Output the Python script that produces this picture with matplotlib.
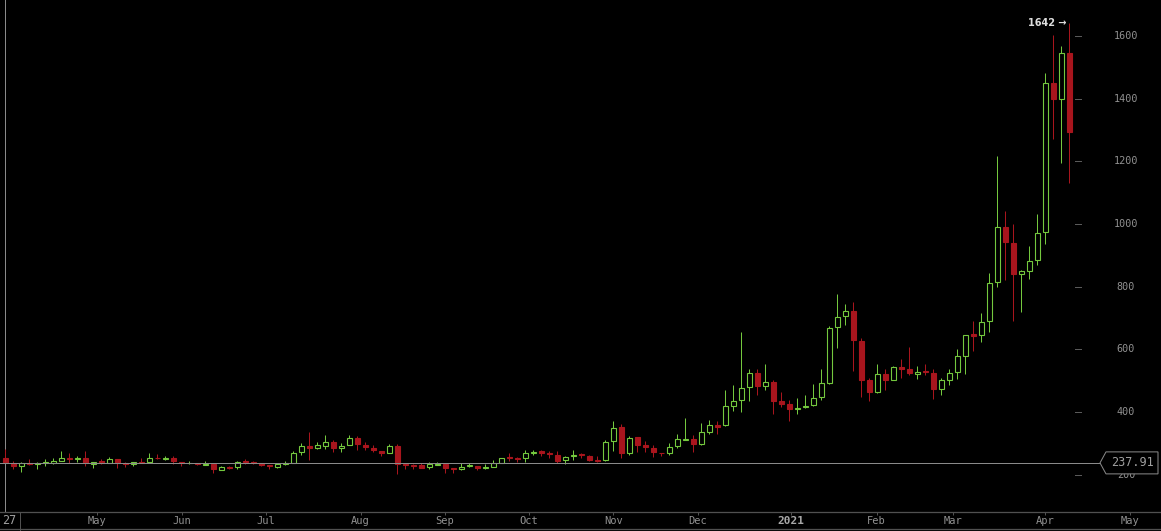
import numpy as np
import matplotlib.pyplot as plt
from matplotlib.patches import Rectangle, Polygon
from matplotlib.lines import Line2D
import matplotlib.transforms as mtrans

# candle data (one candle per bar)
opens = [254, 238, 227, 238, 234, 238, 239, 243, 255, 250,
         255, 235, 243, 239, 249, 238, 235, 242, 240, 255,
         251, 255, 241, 236, 238, 232, 233, 216, 223, 224,
         243, 240, 238, 230, 225, 235, 238, 272, 293, 286,
         293, 306, 285, 294, 318, 296, 287, 276, 270, 293,
         233, 231, 230, 224, 232, 233, 220, 217, 228, 229,
         222, 224, 239, 257, 252, 253, 270, 275, 270, 264,
         246, 259, 266, 261, 248, 248, 307, 351, 268, 319,
         294, 287, 271, 268, 291, 312, 315, 299, 338, 360,
         358, 421, 438, 479, 525, 483, 496, 434, 426, 410,
         416, 422, 447, 493, 671, 706, 721, 628, 501, 463,
         523, 502, 545, 539, 523, 530, 526, 475, 502, 527,
         580, 648, 645, 690, 815, 992, 941, 841, 851, 884,
         976, 1449, 1398, 1545]
highs = [283, 245, 241, 251, 241, 249, 253, 277, 268, 259,
         277, 241, 249, 258, 249, 242, 242, 255, 271, 265,
         259, 261, 241, 244, 239, 244, 233, 229, 229, 245,
         250, 243, 238, 230, 233, 244, 277, 302, 338, 306,
         327, 312, 302, 327, 325, 305, 295, 276, 298, 297,
         236, 235, 236, 242, 240, 236, 220, 236, 237, 229,
         233, 248, 254, 268, 258, 279, 280, 280, 276, 275,
         261, 280, 270, 264, 261, 311, 373, 363, 325, 322,
         308, 294, 271, 300, 331, 382, 328, 365, 376, 370,
         469, 485, 654, 539, 536, 555, 502, 465, 440, 446,
         456, 491, 539, 674, 776, 744, 751, 635, 510, 555,
         539, 548, 568, 609, 548, 552, 539, 510, 536, 600,
         647, 692, 715, 845, 1217, 1041, 1000, 853, 929, 1032,
         1482, 1603, 1568, 1642]
lows = [236, 219, 208, 230, 218, 227, 235, 243, 238, 240,
        227, 221, 234, 237, 221, 225, 228, 236, 240, 250,
        246, 233, 227, 234, 232, 232, 205, 214, 220, 218,
        235, 235, 227, 219, 222, 230, 238, 262, 246, 282,
        283, 272, 272, 294, 280, 278, 272, 259, 268, 204,
        217, 219, 221, 220, 230, 207, 205, 214, 224, 214,
        217, 224, 238, 245, 242, 242, 264, 259, 255, 238,
        233, 246, 253, 245, 242, 243, 275, 252, 262, 274,
        274, 256, 259, 264, 284, 310, 272, 294, 331, 331,
        355, 402, 400, 435, 454, 469, 393, 415, 371, 393,
        413, 419, 438, 491, 604, 677, 530, 447, 435, 460,
        472, 502, 510, 517, 504, 517, 443, 453, 488, 504,
        523, 596, 625, 655, 799, 822, 691, 719, 824, 869,
        936, 1270, 1196, 1130]
closes = [238, 227, 236, 234, 238, 241, 244, 254, 249, 255,
          238, 241, 238, 249, 238, 235, 242, 239, 255, 252,
          255, 243, 239, 239, 235, 234, 218, 225, 221, 242,
          240, 237, 230, 228, 233, 239, 271, 293, 285, 296,
          305, 285, 293, 318, 297, 288, 278, 268, 293, 235,
          230, 228, 223, 233, 234, 221, 218, 226, 231, 223,
          225, 239, 254, 254, 250, 271, 273, 269, 267, 245,
          257, 263, 263, 248, 245, 305, 350, 269, 318, 294,
          288, 272, 268, 289, 314, 315, 297, 337, 359, 354,
          420, 436, 477, 525, 483, 496, 435, 427, 409, 414,
          421, 445, 493, 669, 704, 721, 629, 503, 463, 523,
          502, 545, 539, 524, 529, 527, 475, 501, 526, 580,
          647, 644, 689, 813, 992, 943, 841, 849, 881, 973,
          1449, 1398, 1545, 1295]

ref_price = 237.91
y_ticks = [200, 400, 600, 800, 1000, 1200, 1400, 1600]
month_labels = ["May", "Jun", "Jul", "Aug", "Sep", "Oct", "Nov", "Dec",
                "2021", "Feb", "Mar", "Apr", "May"]
month_pos = [11.4, 22.1, 32.6, 44.4, 54.9, 65.4, 76.0, 86.6,
             98.25, 108.9, 118.4, 130.0, 140.6]

UP = "#74c83e"
DOWN = "#a8151d"
BG = "#000000"
TXT = "#919191"
W, H = 1161, 531
px = 72.0 / 100  # one pixel in points

fig = plt.figure(figsize=(W / 100, H / 100), dpi=100, facecolor=BG)
ax = fig.add_axes([0, (H - 512) / H, 1, 512 / H], facecolor=BG)

n = len(opens)
x = np.arange(n)
bw = 0.55
for i in range(n):
    o, h, l, c = opens[i], highs[i], lows[i], closes[i]
    col = UP if c >= o else DOWN
    ax.vlines(x[i], l, h, color=col, lw=px, zorder=2)
    lo, hi = min(o, c), max(o, c)
    if hi - lo < 3:
        hi = lo + 3
    face = BG if c >= o else DOWN
    ax.add_patch(Rectangle((x[i] - bw / 2, lo), bw, hi - lo, facecolor=face,
                           edgecolor=col, lw=px * 1.1, zorder=3))

ax.set_xlim(-0.6625, 144.46)
ax.set_ylim(81.2, 1714.9)

# y scale labels drawn inside the plot
bt = mtrans.blended_transform_factory(ax.transAxes, ax.transData)
for v in y_ticks:
    ax.plot([1075 / W, 1081 / W], [v, v], transform=bt, color="#5a5a5a", lw=px, zorder=1)
    ax.text(1126 / W, v, str(v), transform=bt, ha="center", va="center",
            color=TXT, fontsize=7.3, family="DejaVu Sans Mono")

# reference price line and label
ax.plot([0, 1100 / W], [ref_price, ref_price], transform=bt, color="#8a8a8a", lw=px, zorder=4)
fig.canvas.draw()
py = ax.transData.transform((0, ref_price))[1]
box = Polygon([(1100, py), (1106, py + 11), (1158, py + 11), (1158, py - 11), (1106, py - 11)],
              closed=True, transform=mtrans.IdentityTransform(), facecolor=BG,
              edgecolor="#8a8a8a", lw=px, zorder=6)
fig.add_artist(box)
fig.text(1132 / W, py / H, f"{ref_price:.2f}", ha="center", va="center", color="#a0a0a0",
         fontsize=8.5, family="DejaVu Sans Mono", zorder=7)

# max label
ax.annotate(f"{highs[-1]} \u2192", xy=(x[-1], highs[-1]), xytext=(-2, 0),
            textcoords="offset points", ha="right", va="center", color="#dddddd",
            fontsize=7, fontweight="bold", family="DejaVu Sans")

# crosshair
ax.axvline(x[0], color="#8a8a8a", lw=px, zorder=1)

# x axis strip
for s in ["top", "left", "right"]:
    ax.spines[s].set_visible(False)
ax.spines["bottom"].set_color("#505050")
ax.spines["bottom"].set_linewidth(px * 1.3)
ax.set_yticks([])
ax.set_xticks(month_pos)
ax.set_xticklabels(month_labels, family="DejaVu Sans Mono", fontsize=7.5, color=TXT)
for lab in ax.get_xticklabels():
    if lab.get_text() == "2021":
        lab.set_fontweight("bold")
        lab.set_fontsize(8)
        lab.set_color("#a8a8a8")
ax.tick_params(axis="x", direction="out", length=2.5, width=px, color="#505050", pad=0.5)

fig.add_artist(Line2D([0, 1], [(H - 529) / H] * 2, transform=fig.transFigure,
                      color="#505050", lw=px * 1.3))
fig.add_artist(Line2D([20 / W] * 2, [0, (H - 512) / H], transform=fig.transFigure,
                      color="#505050", lw=px))
fig.text(2 / W, (H - 521) / H, "27", ha="left", va="center", color="#a0a0a0",
         fontsize=8.5, family="DejaVu Sans Mono")

fig.savefig("out.png", dpi=100, facecolor=BG)
